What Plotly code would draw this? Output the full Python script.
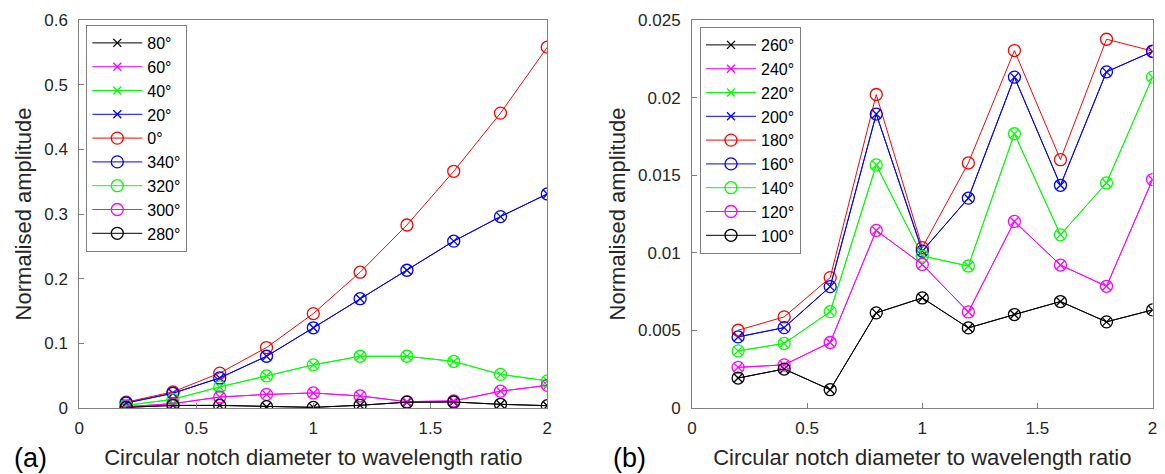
import plotly.graph_objects as go

x_vals = [0.2, 0.4, 0.6, 0.8, 1.0, 1.2, 1.4, 1.6, 1.8, 2.0]

# Panel (a)
a_0 = [0.009, 0.025, 0.054, 0.0935, 0.146, 0.210, 0.283, 0.366, 0.456, 0.558]
a_340 = [0.0077, 0.0228, 0.0465, 0.080, 0.124, 0.169, 0.213, 0.258, 0.296, 0.331]
a_320 = [0.004, 0.0134, 0.0326, 0.0496, 0.0667, 0.080, 0.080, 0.072, 0.052, 0.042]
a_300 = [0.002, 0.0067, 0.017, 0.021, 0.0233, 0.0186, 0.0098, 0.011, 0.026, 0.035]
a_280 = [0.001, 0.004, 0.004, 0.002, 0.001, 0.0042, 0.009, 0.0093, 0.0057, 0.0036]
a_20, a_40, a_60, a_80 = a_340, a_320, a_300, a_280

# Panel (b)
b_180 = [0.00501, 0.00587, 0.0084, 0.0202, 0.01033, 0.01579, 0.02303, 0.0160, 0.02376, 0.0230]
b_160 = [0.00458, 0.00518, 0.00782, 0.01894, 0.01011, 0.01352, 0.02132, 0.01435, 0.02166, 0.02297]
b_140 = [0.00368, 0.00416, 0.00621, 0.01566, 0.00979, 0.00915, 0.01767, 0.01116, 0.0145, 0.02132]
b_120 = [0.00262, 0.00278, 0.00422, 0.01144, 0.00925, 0.00619, 0.01202, 0.00921, 0.00784, 0.01472]
b_100 = [0.00193, 0.00251, 0.00118, 0.00613, 0.00709, 0.00516, 0.00602, 0.00686, 0.00555, 0.00632]
b_200, b_220, b_240, b_260 = b_160, b_140, b_120, b_100

x_ticks = [0, 0.5, 1, 1.5, 2]
a_yticks = [0, 0.1, 0.2, 0.3, 0.4, 0.5, 0.6]
b_yticks = [0, 0.005, 0.01, 0.015, 0.02, 0.025]

BLACK, MAG, GRN, BLU, RED = "#000000", "#ff00ff", "#00ff00", "#0000ff", "#ff0000"

a_series = [
    ("80°", a_80, BLACK, "x"), ("60°", a_60, MAG, "x"), ("40°", a_40, GRN, "x"),
    ("20°", a_20, BLU, "x"), ("0°", a_0, RED, "o"), ("340°", a_340, BLU, "o"),
    ("320°", a_320, GRN, "o"), ("300°", a_300, MAG, "o"), ("280°", a_280, BLACK, "o"),
]
b_series = [
    ("260°", b_260, BLACK, "x"), ("240°", b_240, MAG, "x"), ("220°", b_220, GRN, "x"),
    ("200°", b_200, BLU, "x"), ("180°", b_180, RED, "o"), ("160°", b_160, BLU, "o"),
    ("140°", b_140, GRN, "o"), ("120°", b_120, MAG, "o"), ("100°", b_100, BLACK, "o"),
]

fig = go.Figure()

def add(series, xa, ya, leg):
    for name, ys, col, m in series:
        if m == "x":
            marker = dict(symbol="x-thin-open", size=8, color=col, line=dict(width=1.3, color=col))
        else:
            marker = dict(symbol="circle-open", size=12, color=col, line=dict(width=1.3, color=col))
        fig.add_trace(go.Scatter(
            x=x_vals, y=ys, name=name, mode="lines+markers",
            line=dict(color=col, width=1), marker=marker,
            xaxis=xa, yaxis=ya, legend=leg,
        ))

add(a_series, "x", "y", "legend")
add(b_series, "x2", "y2", "legend2")

FONT = "Liberation Sans, Arial, sans-serif"
tickfont = dict(family=FONT, size=17, color="#262626")
titlefont = dict(family=FONT, size=22, color="#262626")

axis_common = dict(
    showgrid=False, zeroline=False, showline=True, mirror=True,
    linecolor="#7f7f7f", linewidth=1, ticks="inside", ticklen=5,
    tickcolor="#7f7f7f", tickfont=tickfont,
)

W, H = 1165, 474
top, bottom = 20, 408
fig.update_layout(
    width=W, height=H,
    margin=dict(l=0, r=0, t=top, b=H - bottom),
    paper_bgcolor="white", plot_bgcolor="white",
    xaxis=dict(domain=[75 / W, 547 / W], range=[0, 2], tickvals=x_ticks, ticklabelstandoff=5,
               title=dict(text="Circular notch diameter to wavelength ratio", font=titlefont, standoff=12),
               anchor="y", **axis_common),
    yaxis=dict(domain=[0, 1], range=[0, 0.6], tickvals=a_yticks, ticklabelstandoff=7,
               title=dict(text="Normalised amplitude", font=titlefont, standoff=6),
               anchor="x", **axis_common),
    xaxis2=dict(domain=[693 / W, 1157.5 / W], range=[0, 2], tickvals=x_ticks, ticklabelstandoff=5,
                title=dict(text="Circular notch diameter to wavelength ratio", font=titlefont, standoff=12),
                anchor="y2", **axis_common),
    yaxis2=dict(domain=[0, 1], range=[0, 0.025], tickvals=b_yticks, ticklabelstandoff=7,
                title=dict(text="Normalised amplitude", font=titlefont, standoff=6),
                anchor="x2", **axis_common),
    legend=dict(x=82 / W, y=(bottom - 25) / (bottom - top), xanchor="left", yanchor="top",
                bgcolor="white", bordercolor="#7f7f7f", borderwidth=1,
                font=dict(family=FONT, size=16, color="#000000"),
                tracegroupgap=0, itemwidth=50),
    legend2=dict(x=701 / W, y=(bottom - 27) / (bottom - top), xanchor="left", yanchor="top",
                 bgcolor="white", bordercolor="#7f7f7f", borderwidth=1,
                 font=dict(family=FONT, size=16, color="#000000"),
                 tracegroupgap=0, itemwidth=50),
    annotations=[
        dict(text="(a)", x=7 / W, y=(bottom - 458) / (bottom - top), xref="paper", yref="paper",
             xanchor="left", yanchor="middle", showarrow=False,
             font=dict(family=FONT, size=27, color="#000000")),
        dict(text="(b)", x=611 / W, y=(bottom - 458) / (bottom - top), xref="paper", yref="paper",
             xanchor="left", yanchor="middle", showarrow=False,
             font=dict(family=FONT, size=27, color="#000000")),
    ],
)

fig.write_html("out.html")
